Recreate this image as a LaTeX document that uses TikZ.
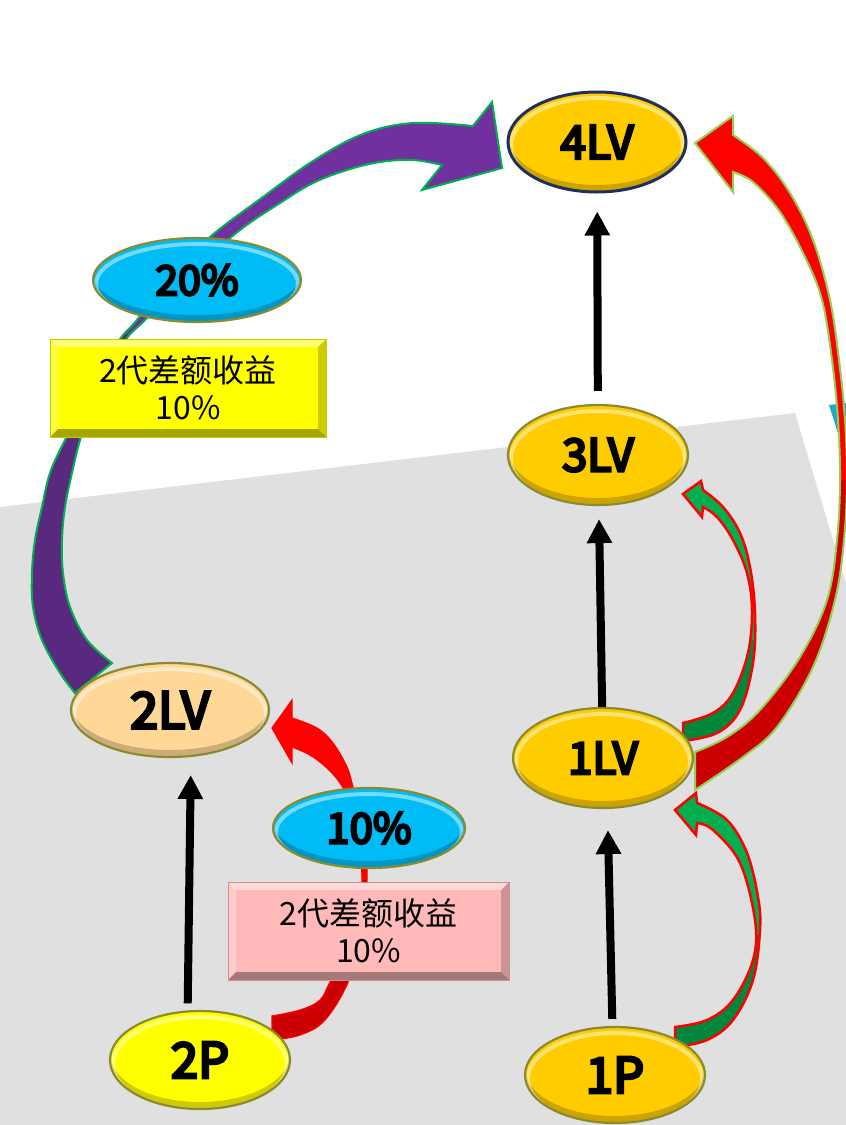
\documentclass[tikz,border=0pt]{standalone}
\usepackage{fontspec}
\setmainfont{Noto Sans}
\newfontfamily\cjk{Noto Sans CJK SC}
\newfontfamily\lblfont{Noto Sans CJK SC}[FakeBold=6]
\usetikzlibrary{arrows.meta,shapes.geometric,calc}
\definecolor{gold}{HTML}{FFCC00}
\definecolor{peach}{HTML}{FFD797}
\definecolor{yel}{HTML}{FFFF00}
\definecolor{sky}{HTML}{00BCF6}
\definecolor{olivebd}{HTML}{8A8A30}
\definecolor{navybd}{HTML}{1F3060}
\definecolor{bggray}{HTML}{E0E0E0}
\definecolor{cyantri}{HTML}{1FA8C9}
\definecolor{purpA}{HTML}{7030A0}
\definecolor{purpB}{HTML}{59287F}
\definecolor{grnbd}{HTML}{00B050}
\definecolor{redA}{HTML}{FF0000}
\definecolor{redB}{HTML}{CC0000}
\definecolor{limebd}{HTML}{92D050}
\definecolor{grnA}{HTML}{00B050}
\definecolor{grnB}{HTML}{00873C}
\definecolor{pinkbox}{HTML}{FFB9B9}
\definecolor{yelbd}{HTML}{C8C800}
\definecolor{pinkbd}{HTML}{C89090}
\newcommand\mylbl[1]{\lblfont\fontsize{#1pt}{#1pt}\selectfont}

\def\purplepath{plot[smooth,tension=0.6] coordinates {(75,693) (60,673) (42,640) (33,607) (32,573) (35,540) (42,507) (50,473) (65,440) (90,390) (118,342) (137,320) (172,276) (210,237) (263,197) (313,161) (363,134) (413,123) (473,126)}
 -- (492,102) -- (502,168) -- (422,190) -- (442,165)
 -- plot[smooth,tension=0.6] coordinates {(442,165) (413,160) (380,162) (347,170) (313,183) (280,203) (240,230) (200,265) (165,300) (143,322) (124,342) (95,392) (80,440) (72,473) (65,507) (62,540) (63,573) (70,607) (87,640) (112,663)} -- cycle}

\def\redpath{plot[smooth,tension=0.6] coordinates {(695,790) (743,757) (777,727) (813,667) (835,600) (844,540) (847,480) (845,420) (839,360) (830,300) (813,240) (790,193) (763,158) (733,135)}
 -- (733,116) -- (695,143) -- (733,192) -- (733,172)
 -- plot[smooth,tension=0.6] coordinates {(733,172) (753,182) (780,212) (805,257) (822,300) (832,360) (838,420) (840,480) (837,540) (827,600) (800,657) (760,710) (727,737) (695,752)} -- cycle}

\def\grnApath{plot[smooth,tension=0.6] coordinates {(683,741) (717,733) (740,710) (753,663) (755,613) (750,567) (740,533) (723,507) (703,490)}
 -- (701,481) -- (683,494) -- (702,517) -- (703,507)
 -- plot[smooth,tension=0.6] coordinates {(703,507) (717,517) (733,540) (747,573) (752,610) (748,653) (733,693) (713,713) (683,723)} -- cycle}

\def\grnBpath{plot[smooth,tension=0.6] coordinates {(675,1047) (707,1040) (733,1020) (753,980) (760,930) (758,897) (747,853) (727,820) (697,803)}
 -- (696,793) -- (675,810) -- (696,835) -- (697,823)
 -- plot[smooth,tension=0.6] coordinates {(697,823) (713,830) (740,863) (755,920) (753,960) (733,1000) (707,1020) (675,1027)} -- cycle}

\def\redSpath{plot[smooth,tension=0.6] coordinates {(272,1040) (300,1035) (325,1020) (349,980) (362,930) (367,880) (365,840) (358,805) (353,787) (347,767) (333,743) (317,728) (292,718)}
 -- (292,700) -- (272,728) -- (292,763) -- (292,747)
 -- plot[smooth,tension=0.6] coordinates {(292,747) (310,755) (327,768) (340,783) (348,800) (358,840) (362,880) (358,930) (331,980) (320,1000) (300,1010) (272,1016)} -- cycle}

\begin{document}
\begin{tikzpicture}[x=1pt,y=-1pt,
  gloss/.style={path picture={
    \draw[black, draw opacity=0.2, line width=6pt] let \p1=(path picture bounding box.north east), \p2=(path picture bounding box.south west), \p3=(path picture bounding box.center) in
      (\x3,\y3+4pt) ellipse [x radius={0.5*(\x1-\x2)+2pt}, y radius={0.5*(\y1-\y2)}];
    \draw[white, draw opacity=0.45, line width=4pt] let \p1=(path picture bounding box.north east), \p2=(path picture bounding box.south west), \p3=(path picture bounding box.center) in
      (\x3,\y3-4pt) ellipse [x radius={0.5*(\x1-\x2)-3pt}, y radius={0.5*(\y1-\y2)-2pt}];
  }},
  oval/.style={ellipse, inner sep=0pt, draw=olivebd, line width=2.2pt, gloss},
  bevel/.style={path picture={
    \fill[white,opacity=.45] (path picture bounding box.north west) -- (path picture bounding box.north east) -- ([shift={(-8pt,-8pt)}]path picture bounding box.north east) -- ([shift={(8pt,-8pt)}]path picture bounding box.north west) -- cycle;
    \fill[white,opacity=.25] (path picture bounding box.north west) -- ([shift={(8pt,-8pt)}]path picture bounding box.north west) -- ([shift={(8pt,8pt)}]path picture bounding box.south west) -- (path picture bounding box.south west) -- cycle;
    \fill[black,opacity=.35] (path picture bounding box.south west) -- (path picture bounding box.south east) -- ([shift={(-8pt,8pt)}]path picture bounding box.south east) -- ([shift={(8pt,8pt)}]path picture bounding box.south west) -- cycle;
    \fill[black,opacity=.2] (path picture bounding box.south east) -- (path picture bounding box.north east) -- ([shift={(-8pt,-8pt)}]path picture bounding box.north east) -- ([shift={(-8pt,8pt)}]path picture bounding box.south east) -- cycle;
  }},
  box/.style={rectangle, inner sep=0pt, line width=1pt, align=center, font=\cjk\fontsize{32pt}{37pt}\selectfont, bevel},
  blk/.style={line width=8pt, -{Triangle[width=24pt,length=24pt]}},
  shapebd/.style={line width=2pt, line join=miter}
]
\useasboundingbox (0,0) rectangle (846,1125);
\fill[white] (0,0) rectangle (846,1125);
% background plane
\fill[bggray] (0,507) -- (795,413) -- (846,583) -- (846,1125) -- (0,1125) -- cycle;
\fill[cyantri] (829,405) -- (846,403) -- (846,458) -- cycle;

% purple curved arrow 2LV -> 4LV
\begin{scope}\clip (0,0) rectangle (846,335); \fill[purpA] \purplepath; \end{scope}
\begin{scope}\clip (0,335) rectangle (846,1125); \fill[purpB] \purplepath; \end{scope}
\draw[shapebd, grnbd] \purplepath;

% red curved arrow 1LV -> 4LV
\begin{scope}\clip (0,0) rectangle (900,480); \fill[redA] \redpath; \end{scope}
\begin{scope}\clip (0,480) rectangle (900,1125); \fill[redB] \redpath; \end{scope}
\draw[shapebd, limebd] \redpath;

% green curved arrow 1LV -> 3LV
\begin{scope}\clip (0,0) rectangle (846,640); \fill[grnA] \grnApath; \end{scope}
\begin{scope}\clip (0,640) rectangle (846,1125); \fill[grnB] \grnApath; \end{scope}
\draw[shapebd, redA, line width=2.5pt] \grnApath;

% green curved arrow 1P -> 1LV
\begin{scope}\clip (0,0) rectangle (846,935); \fill[grnA] \grnBpath; \end{scope}
\begin{scope}\clip (0,935) rectangle (846,1125); \fill[grnB] \grnBpath; \end{scope}
\draw[shapebd, redA, line width=2.5pt] \grnBpath;

% red curved arrow 2P -> 2LV
\begin{scope}\clip (0,0) rectangle (846,880); \fill[redA] \redSpath; \end{scope}
\begin{scope}\clip (0,880) rectangle (846,1125); \fill[redB] \redSpath; \end{scope}
\draw[redA, line width=1.2pt] \redSpath;

% nodes
\node[oval, fill=gold, draw=navybd, line width=3pt, minimum width=178pt, minimum height=100pt] (lv4) at (597,142) {\mylbl{46}4LV};
\node[oval, fill=gold, minimum width=180pt, minimum height=100pt] (lv3) at (598,455) {\mylbl{45}3LV};
\node[oval, fill=gold, minimum width=180pt, minimum height=100pt] (lv1) at (603,758) {\mylbl{44}1LV};
\node[oval, fill=gold, minimum width=180pt, minimum height=96pt] (p1) at (615,1075) {\mylbl{49}1P};
\node[oval, fill=peach, minimum width=198pt, minimum height=94pt] (lv2) at (170,710) {\mylbl{50}2LV};
\node[oval, fill=yel, minimum width=180pt, minimum height=98pt] (p2) at (200,1060) {\mylbl{49}2P};
\node[oval, fill=sky, minimum width=208pt, minimum height=84pt] (r20) at (197,280) {\mylbl{41}20\%};
\node[oval, fill=sky, minimum width=192pt, minimum height=80pt] (r10) at (369,828) {\mylbl{42}10\%};

\node[box, fill=yel, draw=yelbd, minimum width=276pt, minimum height=98pt] (boxA) at (188,388) {2代差额收益\\10\%};
\node[box, fill=pinkbox, draw=pinkbd, minimum width=281pt, minimum height=98pt] (boxB) at (368.5,931) {2代差额收益\\10\%};

% straight black arrows
\draw[blk, shorten <=13pt, shorten >=18pt] (lv3) -- (lv4);
\draw[blk, shorten >=13pt] (lv1) -- (lv3);
\draw[blk, shorten <=7pt, shorten >=21pt] (p1.93.6) -- (lv1.-85.4);
\draw[blk, shorten <=7pt, shorten >=18pt] (p2.104) -- (lv2.-66);
\end{tikzpicture}
\end{document}
